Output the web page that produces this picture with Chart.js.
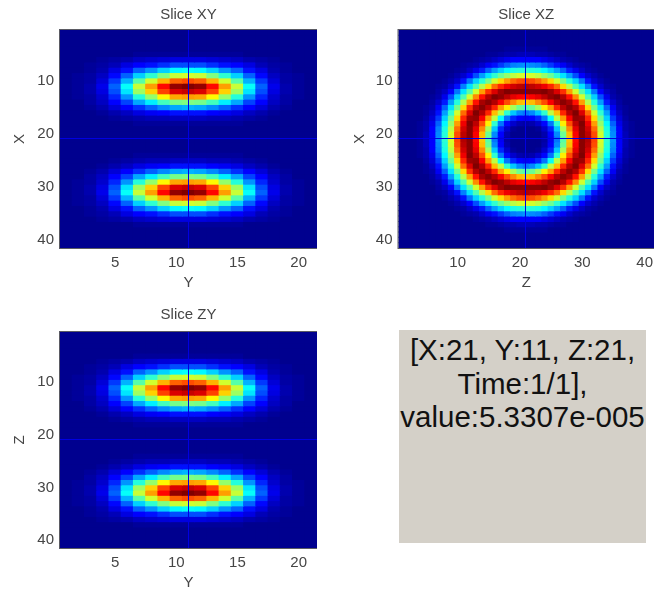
<!DOCTYPE html>
<html><head><meta charset="utf-8">
<style>
html,body{margin:0;padding:0;background:#fff;overflow:hidden;width:654px;height:590px}
canvas{position:absolute}
#info{position:absolute;left:399px;top:330px;width:247px;height:213px;background:#d4d0c8;color:#111;
font:29.5px/33.5px "Liberation Sans",Arial,sans-serif;text-align:center;white-space:nowrap;padding-top:3px;box-sizing:border-box}
#info div{margin:0 -6px}
</style>
<script src="https://cdn.jsdelivr.net/npm/chart.js@4"></script>
</head><body>
<canvas id="cXY" width="317" height="300" style="left:0;top:0"></canvas>
<canvas id="cXZ" width="314" height="300" style="left:340px;top:0"></canvas>
<canvas id="cZY" width="317" height="300" style="left:0;top:300px"></canvas>
<div id="info"></div>
<script>
const infoLines = ["[X:21, Y:11, Z:21,", "Time:1/1],", "value:5.3307e-005"];
const ticksY21 = [5,10,15,20];
const ticksZ41 = [10,20,30,40];
const ticksRow = [10,20,30,40];
const cursorRow = 21, cursorCol21 = 11, cursorCol41 = 21;

// values 0..100, rows 1..41
const sliceXY = [
[0,0,0,0,0,0,0,0,0,0,0,0,0,0,0,0,0,0,0,0,0],
[0,0,0,0,0,0,0,0,0,0,0,0,0,0,0,0,0,0,0,0,0],
[0,0,0,0,0,0,0,0,0,0,0,0,0,0,0,0,0,0,0,0,0],
[0,0,0,0,0,0,0,0,0,0,0,0,0,0,0,0,0,0,0,0,0],
[0,0,0,0,0,0,1,1,1,1,1,1,1,1,1,0,0,0,0,0,0],
[0,0,0,1,2,3,5,6,7,8,8,8,7,6,5,3,2,1,0,0,0],
[0,0,1,2,4,8,11,14,17,20,20,20,17,14,11,8,4,2,1,0,0],
[0,0,1,3,8,14,22,27,33,37,38,37,33,27,22,14,8,3,1,0,0],
[0,1,2,5,13,22,33,42,50,57,58,57,50,42,33,22,13,5,2,1,0],
[0,1,2,7,18,30,46,58,70,78,80,78,70,58,46,30,18,7,2,1,0],
[0,1,3,9,22,38,57,72,87,98,100,98,87,72,57,38,22,9,3,1,0],
[0,1,3,8,20,35,53,67,81,91,93,91,81,67,53,35,20,8,3,1,0],
[0,1,2,6,16,27,41,52,63,71,72,71,63,52,41,27,16,6,2,1,0],
[0,0,2,5,11,19,29,36,44,49,50,49,44,36,29,19,11,5,2,0,0],
[0,0,1,3,7,11,17,22,26,29,30,29,26,22,17,11,7,3,1,0,0],
[0,0,0,1,3,5,8,10,12,14,14,14,12,10,8,5,3,1,0,0,0],
[0,0,0,0,1,2,3,4,4,5,5,5,4,4,3,2,1,0,0,0,0],
[0,0,0,0,0,0,1,1,1,1,1,1,1,1,1,0,0,0,0,0,0],
[0,0,0,0,0,0,0,0,0,0,0,0,0,0,0,0,0,0,0,0,0],
[0,0,0,0,0,0,0,0,0,0,0,0,0,0,0,0,0,0,0,0,0],
[0,0,0,0,0,0,0,0,0,0,0,0,0,0,0,0,0,0,0,0,0],
[0,0,0,0,0,0,0,0,0,0,0,0,0,0,0,0,0,0,0,0,0],
[0,0,0,0,0,0,0,0,0,0,0,0,0,0,0,0,0,0,0,0,0],
[0,0,0,0,0,0,1,1,1,1,1,1,1,1,1,0,0,0,0,0,0],
[0,0,0,0,1,2,3,4,4,5,5,5,4,4,3,2,1,0,0,0,0],
[0,0,0,1,3,5,8,10,12,14,14,14,12,10,8,5,3,1,0,0,0],
[0,0,1,3,7,11,17,22,26,29,30,29,26,22,17,11,7,3,1,0,0],
[0,0,2,5,11,19,29,36,44,49,50,49,44,36,29,19,11,5,2,0,0],
[0,1,2,6,16,27,41,52,63,71,72,71,63,52,41,27,16,6,2,1,0],
[0,1,3,8,20,35,53,67,81,91,93,91,81,67,53,35,20,8,3,1,0],
[0,1,3,9,22,38,57,72,87,98,100,98,87,72,57,38,22,9,3,1,0],
[0,1,2,7,18,30,46,58,70,78,80,78,70,58,46,30,18,7,2,1,0],
[0,1,2,5,13,22,33,42,50,57,58,57,50,42,33,22,13,5,2,1,0],
[0,0,1,3,8,14,22,27,33,37,38,37,33,27,22,14,8,3,1,0,0],
[0,0,1,2,4,8,11,14,17,20,20,20,17,14,11,8,4,2,1,0,0],
[0,0,0,1,2,3,5,6,7,8,8,8,7,6,5,3,2,1,0,0,0],
[0,0,0,0,0,0,1,1,1,1,1,1,1,1,1,0,0,0,0,0,0],
[0,0,0,0,0,0,0,0,0,0,0,0,0,0,0,0,0,0,0,0,0],
[0,0,0,0,0,0,0,0,0,0,0,0,0,0,0,0,0,0,0,0,0],
[0,0,0,0,0,0,0,0,0,0,0,0,0,0,0,0,0,0,0,0,0],
[0,0,0,0,0,0,0,0,0,0,0,0,0,0,0,0,0,0,0,0,0]
];
const sliceZY = sliceXY;
const sliceXZ = [
[0,0,0,0,0,0,0,0,0,0,0,0,0,0,0,0,0,0,0,0,0,0,0,0,0,0,0,0,0,0,0,0,0,0,0,0,0,0,0,0,0],
[0,0,0,0,0,0,0,0,0,0,0,0,0,0,0,0,0,0,0,0,0,0,0,0,0,0,0,0,0,0,0,0,0,0,0,0,0,0,0,0,0],
[0,0,0,0,0,0,0,0,0,0,0,0,0,0,0,0,0,0,0,0,0,0,0,0,0,0,0,0,0,0,0,0,0,0,0,0,0,0,0,0,0],
[0,0,0,0,0,0,0,0,0,0,0,0,0,0,0,0,0,1,1,1,1,1,1,1,0,0,0,0,0,0,0,0,0,0,0,0,0,0,0,0,0],
[0,0,0,0,0,0,0,0,0,0,0,0,0,0,1,1,2,3,3,4,4,4,3,3,2,1,1,0,0,0,0,0,0,0,0,0,0,0,0,0,0],
[0,0,0,0,0,0,0,0,0,0,0,0,1,2,3,5,7,9,11,12,12,12,11,9,7,5,3,2,1,0,0,0,0,0,0,0,0,0,0,0,0],
[0,0,0,0,0,0,0,0,0,0,1,2,3,6,10,14,18,22,25,26,27,26,25,22,18,14,10,6,3,2,1,0,0,0,0,0,0,0,0,0,0],
[0,0,0,0,0,0,0,0,0,1,2,5,9,15,22,28,33,37,40,41,42,41,40,37,33,28,22,15,9,5,2,1,0,0,0,0,0,0,0,0,0],
[0,0,0,0,0,0,0,0,1,3,6,12,20,28,35,42,48,52,56,58,59,58,56,52,48,42,35,28,20,12,6,3,1,0,0,0,0,0,0,0,0],
[0,0,0,0,0,0,0,1,3,6,14,24,33,41,49,58,66,72,77,80,81,80,77,72,66,58,49,41,33,24,14,6,3,1,0,0,0,0,0,0,0],
[0,0,0,0,0,0,1,2,6,14,25,35,45,55,66,77,84,89,92,94,95,94,92,89,84,77,66,55,45,35,25,14,6,2,1,0,0,0,0,0,0],
[0,0,0,0,0,0,2,5,12,24,35,46,58,72,83,91,97,100,99,99,99,99,99,100,97,91,83,72,58,46,35,24,12,5,2,0,0,0,0,0,0],
[0,0,0,0,0,1,3,9,20,33,45,58,74,86,95,100,98,94,90,88,87,88,90,94,98,100,95,86,74,58,45,33,20,9,3,1,0,0,0,0,0],
[0,0,0,0,0,2,6,15,28,41,55,72,86,96,99,95,88,80,74,69,68,69,74,80,88,95,99,96,86,72,55,41,28,15,6,2,0,0,0,0,0],
[0,0,0,0,1,3,10,22,35,49,66,83,95,99,94,84,72,64,54,48,46,48,54,64,72,84,94,99,95,83,66,49,35,22,10,3,1,0,0,0,0],
[0,0,0,0,1,5,14,28,42,58,77,91,100,95,84,69,56,42,32,26,24,26,32,42,56,69,84,95,100,91,77,58,42,28,14,5,1,0,0,0,0],
[0,0,0,0,2,7,18,33,48,66,84,97,98,88,72,56,38,24,16,11,10,11,16,24,38,56,72,88,98,97,84,66,48,33,18,7,2,0,0,0,0],
[0,0,0,1,3,9,22,37,52,72,89,100,94,80,64,42,24,13,6,3,2,3,6,13,24,42,64,80,94,100,89,72,52,37,22,9,3,1,0,0,0],
[0,0,0,1,3,11,25,40,56,77,92,99,90,74,54,32,16,6,1,0,0,0,1,6,16,32,54,74,90,99,92,77,56,40,25,11,3,1,0,0,0],
[0,0,0,1,4,12,26,41,58,80,94,99,88,69,48,26,11,3,0,0,0,0,0,3,11,26,48,69,88,99,94,80,58,41,26,12,4,1,0,0,0],
[0,0,0,1,4,12,27,42,59,81,95,99,87,68,46,24,10,2,0,0,0,0,0,2,10,24,46,68,87,99,95,81,59,42,27,12,4,1,0,0,0],
[0,0,0,1,4,12,26,41,58,80,94,99,88,69,48,26,11,3,0,0,0,0,0,3,11,26,48,69,88,99,94,80,58,41,26,12,4,1,0,0,0],
[0,0,0,1,3,11,25,40,56,77,92,99,90,74,54,32,16,6,1,0,0,0,1,6,16,32,54,74,90,99,92,77,56,40,25,11,3,1,0,0,0],
[0,0,0,1,3,9,22,37,52,72,89,100,94,80,64,42,24,13,6,3,2,3,6,13,24,42,64,80,94,100,89,72,52,37,22,9,3,1,0,0,0],
[0,0,0,0,2,7,18,33,48,66,84,97,98,88,72,56,38,24,16,11,10,11,16,24,38,56,72,88,98,97,84,66,48,33,18,7,2,0,0,0,0],
[0,0,0,0,1,5,14,28,42,58,77,91,100,95,84,69,56,42,32,26,24,26,32,42,56,69,84,95,100,91,77,58,42,28,14,5,1,0,0,0,0],
[0,0,0,0,1,3,10,22,35,49,66,83,95,99,94,84,72,64,54,48,46,48,54,64,72,84,94,99,95,83,66,49,35,22,10,3,1,0,0,0,0],
[0,0,0,0,0,2,6,15,28,41,55,72,86,96,99,95,88,80,74,69,68,69,74,80,88,95,99,96,86,72,55,41,28,15,6,2,0,0,0,0,0],
[0,0,0,0,0,1,3,9,20,33,45,58,74,86,95,100,98,94,90,88,87,88,90,94,98,100,95,86,74,58,45,33,20,9,3,1,0,0,0,0,0],
[0,0,0,0,0,0,2,5,12,24,35,46,58,72,83,91,97,100,99,99,99,99,99,100,97,91,83,72,58,46,35,24,12,5,2,0,0,0,0,0,0],
[0,0,0,0,0,0,1,2,6,14,25,35,45,55,66,77,84,89,92,94,95,94,92,89,84,77,66,55,45,35,25,14,6,2,1,0,0,0,0,0,0],
[0,0,0,0,0,0,0,1,3,6,14,24,33,41,49,58,66,72,77,80,81,80,77,72,66,58,49,41,33,24,14,6,3,1,0,0,0,0,0,0,0],
[0,0,0,0,0,0,0,0,1,3,6,12,20,28,35,42,48,52,56,58,59,58,56,52,48,42,35,28,20,12,6,3,1,0,0,0,0,0,0,0,0],
[0,0,0,0,0,0,0,0,0,1,2,5,9,15,22,28,33,37,40,41,42,41,40,37,33,28,22,15,9,5,2,1,0,0,0,0,0,0,0,0,0],
[0,0,0,0,0,0,0,0,0,0,1,2,3,6,10,14,18,22,25,26,27,26,25,22,18,14,10,6,3,2,1,0,0,0,0,0,0,0,0,0,0],
[0,0,0,0,0,0,0,0,0,0,0,0,1,2,3,5,7,9,11,12,12,12,11,9,7,5,3,2,1,0,0,0,0,0,0,0,0,0,0,0,0],
[0,0,0,0,0,0,0,0,0,0,0,0,0,0,1,1,2,3,3,4,4,4,3,3,2,1,1,0,0,0,0,0,0,0,0,0,0,0,0,0,0],
[0,0,0,0,0,0,0,0,0,0,0,0,0,0,0,0,0,1,1,1,1,1,1,1,0,0,0,0,0,0,0,0,0,0,0,0,0,0,0,0,0],
[0,0,0,0,0,0,0,0,0,0,0,0,0,0,0,0,0,0,0,0,0,0,0,0,0,0,0,0,0,0,0,0,0,0,0,0,0,0,0,0,0],
[0,0,0,0,0,0,0,0,0,0,0,0,0,0,0,0,0,0,0,0,0,0,0,0,0,0,0,0,0,0,0,0,0,0,0,0,0,0,0,0,0],
[0,0,0,0,0,0,0,0,0,0,0,0,0,0,0,0,0,0,0,0,0,0,0,0,0,0,0,0,0,0,0,0,0,0,0,0,0,0,0,0,0]
];

function jet(v){
  const t = v/100;
  const c = x => Math.round(255*Math.max(0,Math.min(1,x)));
  const r = c(Math.min(4*t-1.5, -4*t+4.5));
  const g = c(Math.min(4*t-0.5, -4*t+3.5));
  const b = c(Math.min(4*t+0.5625, -4*t+2.5));
  return `rgb(${r},${g},${b})`;
}

const FONT = {family:'"Liberation Sans",Arial,sans-serif', size:15};
const INK = '#454545';
// frame and crosshair, positioned through the chart's own scales
const overlay = {id:'overlay', afterDatasetsDraw(ch,args,opts){
  const a = ch.chartArea, g = ch.ctx;
  const px = Math.round(ch.scales.x.getPixelForValue(opts.col-1))-0.5;
  const py = Math.round(ch.scales.y.getPixelForValue(opts.row))-0.5;
  g.save();
  g.strokeStyle='rgb(0,0,225)'; g.lineWidth=1;
  g.beginPath(); g.moveTo(a.left,py); g.lineTo(a.right,py); g.moveTo(px,a.top); g.lineTo(px,a.bottom); g.stroke();
  g.strokeStyle='rgba(50,50,60,0.8)';
  g.strokeRect(a.left-0.5,a.top-0.5,a.right-a.left+1,a.bottom-a.top+1);
  g.restore();
}};

function slice(id, grid, title, xName, yName, xTicks, cursorCol, yAxisWidth, xAxisHeight, titleBottom){
  const nRows = grid.length;
  const labels = grid[0].map((_,i)=>String(i+1));
  const datasets = grid.map((row,i)=>({
    data: row.map(()=>[i+0.5,i+1.5]),
    backgroundColor: row.map(jet),
    borderWidth:0, inflateAmount:0.5, barPercentage:1, categoryPercentage:1, grouped:false
  }));
  const noPad = s => { s.paddingLeft=0; s.paddingRight=0; s.paddingTop=0; s.paddingBottom=0; };
  new Chart(document.getElementById(id),{
    type:'bar',
    data:{labels,datasets},
    plugins:[overlay],
    options:{
      responsive:false, animation:false, events:[],
      layout:{padding:0},
      plugins:{legend:{display:false},tooltip:{enabled:false},
        overlay:{row:cursorRow,col:cursorCol},
        title:{display:true,text:title,font:{...FONT,weight:'normal'},color:INK,fullSize:false,padding:{top:6,bottom:titleBottom}}},
      scales:{
        x:{type:'category',offset:true,grid:{display:false,drawTicks:false},border:{display:false},
          ticks:{autoSkip:false,maxRotation:0,minRotation:0,padding:6,font:FONT,color:INK},
          afterBuildTicks:s=>{s.ticks=s.ticks.filter(t=>xTicks.includes(+s.getLabelForValue(t.value)));},
          afterFit:s=>{s.height=xAxisHeight;noPad(s);},
          title:{display:true,text:xName,font:FONT,color:INK,padding:{top:0,bottom:8}}},
        y:{type:'linear',reverse:true,min:0.5,max:nRows+0.5,grid:{display:false,drawTicks:false},border:{display:false},
          ticks:{padding:6,font:FONT,color:INK},
          afterBuildTicks:s=>{s.ticks=ticksRow.map(v=>({value:v}));},
          afterFit:s=>{s.width=yAxisWidth;noPad(s);},
          title:{display:true,text:yName,font:FONT,color:INK,padding:{top:11,bottom:0}}}
      }
    }
  });
}

slice('cXY',sliceXY,'Slice XY','Y','X',ticksY21,cursorCol21,60,52,6);
slice('cXZ',sliceXZ,'Slice XZ','Z','X',ticksZ41,cursorCol41,58.5,52,6);
slice('cZY',sliceZY,'Slice ZY','Y','Z',ticksY21,cursorCol21,60,52,8);

const info = document.getElementById('info');
infoLines.forEach(t=>{const d=document.createElement('div');d.textContent=t;info.appendChild(d);});
</script>
</body></html>
